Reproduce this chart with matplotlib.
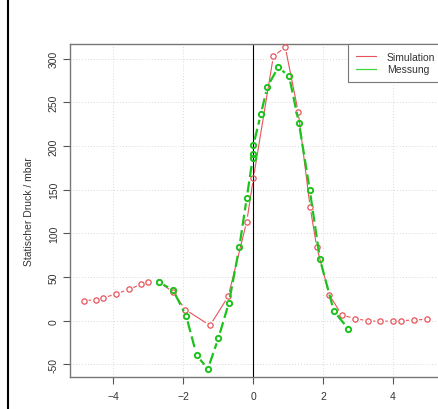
import numpy as np
import matplotlib.pyplot as plt
from matplotlib.lines import Line2D

plt.rcParams['font.family'] = ['Liberation Sans', 'DejaVu Sans']

# Simulation (red)
sim_x = [-4.84, -4.49, -4.28, -3.91, -3.55, -3.19, -2.99, -2.68, -2.28, -1.94,
         -1.23, -0.71, -0.18, 0.01, 0.58, 0.92, 1.29, 1.63, 1.82, 2.18,
         2.53, 2.92, 3.29, 3.64, 3.99, 4.23, 4.60, 4.98]
sim_y = [22.9, 24.3, 26.0, 30.9, 35.8, 41.9, 44.2, 44.2, 32.8, 12.9,
         -5.3, 27.8, 113.5, 163.0, 302.5, 313.0, 239.0, 130.0, 84.2, 29.7,
         6.9, 2.3, 0.0, -0.8, 0.0, 0.0, 1.1, 1.5]

# Messung (green)
mes_x = [-2.70, -2.29, -1.91, -1.61, -1.29, -0.99, -0.69, -0.39, -0.18,
         -0.01, 0.0, 0.01, 0.22, 0.41, 0.72, 1.03, 1.31, 1.62, 1.91, 2.31, 2.72]
mes_y = [44.2, 35.4, 5.4, -39.7, -54.9, -19.8, 20.6, 84.9, 140.6,
         186.0, 191.0, 201.0, 236.0, 267.8, 290.0, 279.7, 226.3, 149.7, 70.5, 11.0, -9.1]

x_ticks = [-4, -2, 0, 2, 4]
y_ticks = [-50, 0, 50, 100, 150, 200, 250, 300]

RED = '#e8535b'
GREEN = '#1cc21c'

fig = plt.figure(figsize=(4.38, 4.10), dpi=100)
ax = fig.add_axes([70/438, 1-378/410, (441-70)/438, (378-45)/410])
ax.set_xlim(-5.23, 5.37)
ax.set_ylim(-64.3, 316.6)

# grid like R's grid()
for t in x_ticks:
    ax.axvline(t, color='#d8d8d8', lw=0.7, ls=(0, (1, 2)), zorder=0)
for t in y_ticks:
    ax.axhline(t, color='#d8d8d8', lw=0.7, ls=(0, (1, 2)), zorder=0)
ax.axvline(0, color='black', lw=0.8, zorder=1)


def gapped(x, y, gap, **kw):
    # R type="b": segments stop short of the points
    pts = ax.transData.transform(np.column_stack([x, y]))
    inv = ax.transData.inverted()
    for p0, p1 in zip(pts[:-1], pts[1:]):
        d = p1 - p0
        L = np.hypot(*d)
        if L <= 2 * gap:
            continue
        u = d / L
        a = inv.transform(p0 + u * gap)
        b = inv.transform(p1 - u * gap)
        ax.plot([a[0], b[0]], [a[1], b[1]], **kw)


gapped(sim_x, sim_y, 5.5, color=RED, lw=0.8, zorder=2)
ax.plot(sim_x, sim_y, ls='none', marker='o', ms=3.8, mfc='none', mec=RED, mew=0.9, zorder=3)

gapped(mes_x, mes_y, 5.5, color=GREEN, lw=1.6, ls=(0, (5, 2)), zorder=4)
ax.plot(mes_x, mes_y, ls='none', marker='o', ms=3.8, mfc='none', mec=GREEN, mew=1.4, zorder=5)

ax.set_xticks(x_ticks)
ax.set_yticks(y_ticks)
ax.set_yticklabels([str(v) for v in y_ticks], rotation=90, va='center')
ax.tick_params(colors='#555555', labelcolor='#333333', labelsize=7.5, length=5, width=0.8)
ax.tick_params(axis='x', pad=5)
ax.tick_params(axis='y', pad=3)
for s in ax.spines.values():
    s.set_color('#777777')
    s.set_linewidth(1.0)

ax.set_ylabel('Statischer Druck / mbar', fontsize=7.5, color='#333333')
ax.yaxis.set_label_coords(-0.098, 0.5)

handles = [Line2D([], [], color=RED, lw=0.8), Line2D([], [], color='#3fd83f', lw=0.9)]
leg = ax.legend(handles, ['Simulation', 'Messung'], loc='upper left',
                bbox_to_anchor=(348/438, 1-45/410), bbox_transform=fig.transFigure,
                fontsize=7.5, frameon=True, fancybox=False, framealpha=1,
                edgecolor='#777777', handlelength=1.9, handletextpad=1.1,
                borderpad=0.75, labelspacing=0.25, borderaxespad=0)
leg.get_frame().set_linewidth(0.8)
for t in leg.get_texts():
    t.set_color('#333333')

# frame line at the left edge
fig.add_artist(Line2D([8/438, 8/438], [0, 1], color='black', lw=1.5, transform=fig.transFigure))

fig.savefig('out.png', dpi=100)
